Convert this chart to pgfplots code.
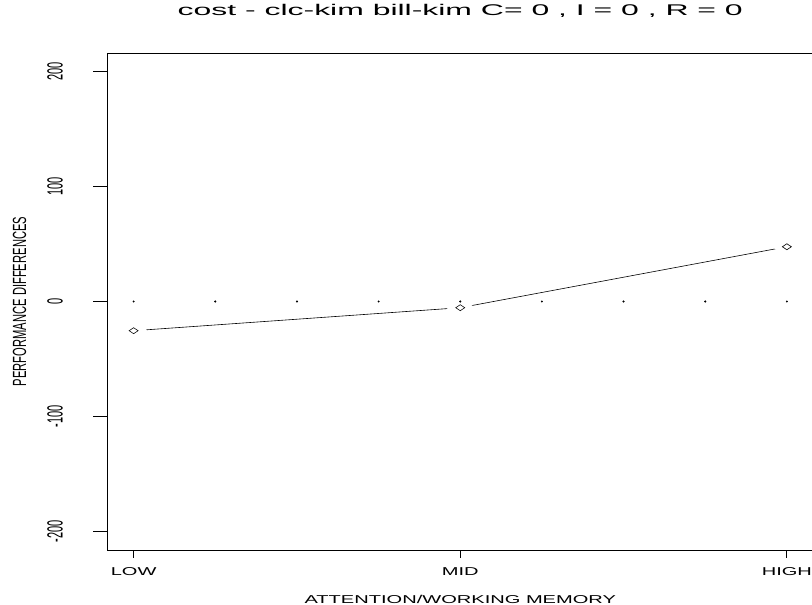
\documentclass[border=0pt]{standalone}
\usepackage{pgfplots}
\pgfplotsset{compat=1.18}
\usepackage{fontspec}
\setmainfont{Liberation Sans}
\newcommand\xtl[1]{\scalebox{1.76}[1]{\fontsize{11.4}{13}\selectfont #1}}
\newcommand\ytl[1]{\scalebox{1}[2.0]{\fontsize{11}{13}\selectfont #1}}
\begin{document}
\begin{tikzpicture}[x=1pt,y=1pt]
\useasboundingbox (0,0) rectangle (812,605);
\begin{axis}[
  at={(107.5pt,55pt)}, anchor=south west,
  scale only axis, width=705.5pt, height=497pt,
  xmin=0.92, xmax=3.08, ymin=-216, ymax=216,
  xtick={1,2,3}, xticklabels={\xtl{LOW},\xtl{MID},\xtl{HIGH}},
  ytick=\empty,
  extra y ticks={-200,-100,0,100,200},
  extra y tick labels={\ytl{-200},\ytl{-100},\ytl{0},\ytl{100},\ytl{200}},
  extra y tick style={major tick length=14pt, tick align=outside},
  tick align=outside, major tick length=8pt,
  every tick/.style={black, line width=0.8pt},
  tick pos=left,
  axis line style={line width=0.8pt},
  xticklabel style={anchor=base, inner sep=0pt, yshift=-17.5pt},
  yticklabel style={rotate=90, anchor=south, inner sep=0pt, yshift=30.5pt},
  xlabel={\xtl{ATTENTION/WORKING MEMORY}},
  xlabel style={anchor=base, at={(axis description cs:0.5,0)}, yshift=-53.7pt, inner sep=0pt},
  ylabel={\scalebox{1}[1.7]{\fontsize{11.2}{13}\selectfont PERFORMANCE DIFFERENCES}},
  ylabel style={anchor=center, at={(axis description cs:0,0.5)}, yshift=88pt, inner sep=0pt},
  title={\scalebox{2.06}[1]{\fontsize{15.5}{17}\selectfont cost - clc-kim bill-kim C= 0 , I = 0 , R = 0}},
  title style={anchor=base, at={(axis description cs:0.5,1)}, yshift=31pt, inner sep=0pt},
]
\addplot[black, line width=0.6pt, mark=none] coordinates {(1,-25.4) (2,-5.4) (3,47.6)};
\addplot[only marks, mark=*, mark size=5pt, mark options={draw=white, fill=white, xscale=2.6}] coordinates {(1,-25.4) (2,-5.4) (3,47.6)};
\addplot[only marks, mark=*, mark size=0.8pt, black] coordinates {(1,0) (1.25,0) (1.5,0) (1.75,0) (2,0) (2.25,0) (2.5,0) (2.75,0) (3,0)};
\addplot[only marks, black, mark=diamond, mark size=3pt, mark options={xscale=2, line width=0.6pt, fill=none}] coordinates {(1,-25.4) (2,-5.4) (3,47.6)};
\end{axis}
\end{tikzpicture}
\end{document}
